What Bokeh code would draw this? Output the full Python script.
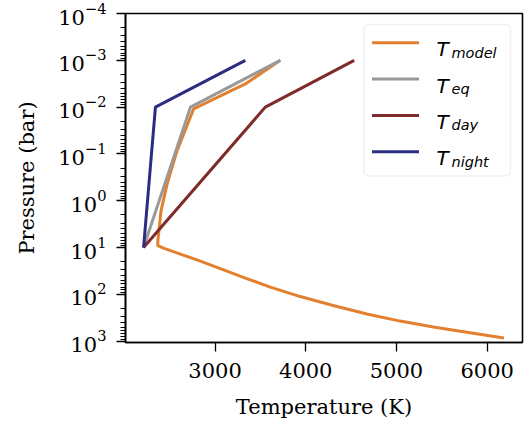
from bokeh.plotting import figure
from bokeh.models import Range1d, Label, BoxAnnotation
from bokeh.embed import file_html
from bokeh.resources import INLINE

# ---- data ----
p_model = [1.0e-3, 3.2e-3, 1.09e-2, 8.5e-2, 0.435, 1.62, 7.7, 9.06, 10.26, 13.77,
           19.41, 28.12, 44.87, 69.8, 111.4, 173.4, 263.6, 372.4, 500.0, 645.7, 859.0]
t_model = [3720, 3334, 2764, 2582, 2472, 2405, 2368, 2370, 2431, 2618,
           2838, 3058, 3334, 3609, 3939, 4302, 4674, 5040, 5407, 5775, 6185]

p_eq = [1e-3, 1e-2, 1e1]
t_eq = [3720, 2729, 2212]

p_day = [1e-3, 1e-2, 1e1]
t_day = [4534, 3554, 2212]

p_night = [1e-3, 1e-2, 1e1]
t_night = [3334, 2343, 2212]

series_names = ["model", "eq", "day", "night"]
series_colors = ["#E3802F", "#999999", "#7F2B2B", "#2C2D80"]

x_limits = (2013, 6389)
y_limits = (1067, 1e-4)

FONT = "DejaVu Serif"

p = figure(frame_width=397, frame_height=329,
           min_border_left=125, min_border_right=5,
           min_border_top=13, min_border_bottom=80,
           y_axis_type="log",
           x_range=Range1d(*x_limits), y_range=Range1d(*y_limits),
           output_backend="svg", toolbar_location=None)

p.xgrid.visible = False
p.ygrid.visible = False
p.outline_line_color = "black"
p.outline_line_width = 1.6
p.outline_line_alpha = 1.0
p.background_fill_color = "white"
p.border_fill_color = "white"

for ax in (p.xaxis[0], p.yaxis[0]):
    ax.axis_line_width = 1.6
    ax.major_tick_line_width = 1.3
    ax.major_tick_out = 9
    ax.major_tick_in = 0
    ax.minor_tick_line_width = 1.0
    ax.minor_tick_out = 5
    ax.minor_tick_in = 0
    ax.major_label_text_font = FONT
    ax.major_label_text_font_size = "21px"
    ax.major_label_text_color = "black"
    ax.axis_label_text_font = FONT
    ax.axis_label_text_font_size = "21px"
    ax.axis_label_text_font_style = "normal"
    ax.axis_label_text_color = "black"

p.xaxis[0].minor_tick_line_color = None
p.xaxis[0].ticker.desired_num_ticks = 5
p.xaxis[0].major_label_standoff = 11
p.xaxis[0].axis_label_standoff = 14
p.yaxis[0].major_label_standoff = 10
p.yaxis[0].axis_label_standoff = 16

p.xaxis[0].axis_label = "Temperature (K)"
p.yaxis[0].axis_label = "Pressure (bar)"

series = [(t_model, p_model), (t_eq, p_eq), (t_day, p_day), (t_night, p_night)]
for (t, pr), c in zip(series, series_colors):
    p.line(t, pr, line_color=c, line_width=3, line_join="round")

# ---- hand-built legend (screen units relative to frame, y up) ----
FL, FB = 125, 342  # page coords of frame left / bottom


def sx(px):
    return px - FL


def sy(py):
    return FB - py


p.add_layout(BoxAnnotation(left=sx(363.5), right=sx(510), top=sy(24), bottom=sy(175.5),
                           left_units="screen", right_units="screen",
                           top_units="screen", bottom_units="screen",
                           fill_color="white", fill_alpha=0.8,
                           line_color="#d0d0d0", line_width=1.6, border_radius=5,
                           level="overlay"))

row0, dy = 42.3, 36.3
for i, (name, c) in enumerate(zip(series_names, series_colors)):
    yc = row0 + i * dy
    p.add_layout(BoxAnnotation(left=sx(371.5), right=sx(418.5), top=sy(yc - 1.5), bottom=sy(yc + 1.5),
                               left_units="screen", right_units="screen",
                               top_units="screen", bottom_units="screen",
                               fill_color=c, fill_alpha=1.0, line_alpha=0,
                               level="overlay"))
    p.add_layout(Label(x=sx(436), y=sy(yc + 6.5), x_units="screen", y_units="screen",
                       text="T", text_font="DejaVu Sans", text_font_style="italic",
                       text_font_size="20px", text_color="black",
                       text_baseline="alphabetic", text_align="left", level="overlay"))
    p.add_layout(Label(x=sx(451), y=sy(yc + 9.8), x_units="screen", y_units="screen",
                       text=name, text_font="DejaVu Sans", text_font_style="italic",
                       text_font_size="14.5px", text_color="black",
                       text_baseline="alphabetic", text_align="left", level="overlay"))

open("out.html", "w").write(file_html(p, INLINE))
